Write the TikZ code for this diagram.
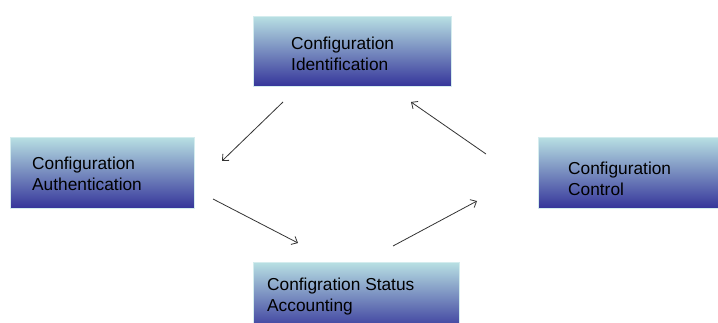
\documentclass[tikz,border=0pt]{standalone}
\usepackage{fontspec}
\setmainfont{Liberation Sans}
\usetikzlibrary{arrows.meta,calc}
\definecolor{boxtop}{HTML}{B8E0E3}
\definecolor{boxmid}{HTML}{A2B8D5}
\definecolor{boxbot}{HTML}{35359A}
\definecolor{arrowgray}{HTML}{333333}
\tikzset{
  stagebox/.style={rectangle, draw=boxtop!60!white, line width=0.4pt,
    top color=boxtop, middle color=boxmid, bottom color=boxbot,
    inner sep=0pt, anchor=north west},
  stagetext/.style={anchor=west, align=left, inner sep=0pt,
    font=\fontsize{17.3}{21}\selectfont, text=black},
  flow/.style={draw=arrowgray, line width=0.8pt,
    -{Straight Barb[length=5pt,width=9pt]}}
}
\begin{document}
\begin{tikzpicture}[x=1pt,y=-1pt]
  \useasboundingbox (0,0) rectangle (718,323);
  \clip (0,0) rectangle (718,323);
  \fill[white] (0,0) rectangle (718,323);

  % the four stages of the cycle
  \node[stagebox, minimum width=198pt, minimum height=70pt] (ident) at (253,16) {};
  \node[stagebox, minimum width=184pt, minimum height=71pt] (auth) at (10,137) {};
  \node[stagebox, minimum width=182pt, minimum height=71pt] (ctrl) at (538,137) {};
  \node[stagebox, minimum width=206pt, minimum height=70pt] (status) at (253,262) {};

  \node[stagetext] (identtxt) at (291,53.5) {Configuration\\Identification};
  \node[stagetext] (authtxt) at (32,174) {Configuration\\Authentication};
  \node[stagetext] (ctrltxt) at (568,178.5) {Configuration\\Control};
  \node[stagetext] (statustxt) at (267,297) {Configration Status\\Accounting};

  % free-standing arrow ends between the stages
  \coordinate (a1s) at (283,102);
  \coordinate (a1e) at (222,161);
  \coordinate (a2s) at (213,199);
  \coordinate (a2e) at (298,243);
  \coordinate (a3s) at (393,246);
  \coordinate (a3e) at (477,201);
  \coordinate (a4s) at (486,154);
  \coordinate (a4e) at (411,102);

  \draw[flow] (a1s) -- (a1e);
  \draw[flow] (a2s) -- (a2e);
  \draw[flow] (a3s) -- (a3e);
  \draw[flow] (a4s) -- (a4e);
\end{tikzpicture}
\end{document}
